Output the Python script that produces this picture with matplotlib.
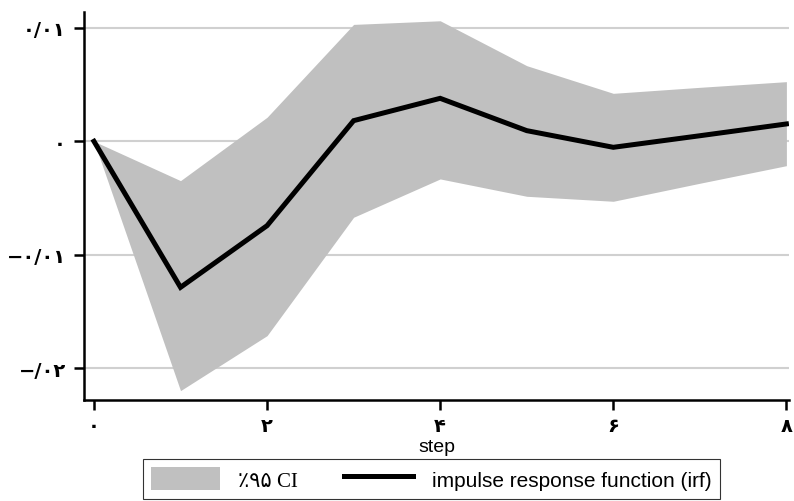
import matplotlib.pyplot as plt

# impulse response and its 95% band, by step
steps = [0, 1, 2, 3, 4, 5, 6, 7, 8]
irf = [0.0, -0.01288, -0.00744, 0.00182, 0.00379, 0.00094, -0.00053, 0.00049, 0.00153]
ci_upper = [0.0, -0.00347, 0.00212, 0.01031, 0.01063, 0.00667, 0.00423, 0.00476, 0.00526]
ci_lower = [0.0, -0.02199, -0.01714, -0.0067, -0.00332, -0.00485, -0.00529, -0.0037, -0.00215]

y_ticks = [0.01, 0.0, -0.01, -0.02]
y_labels = ["۰/۰۱", "۰", "−۰/۰۱", "−/۰۲"]
x_ticks = [0, 2, 4, 6, 8]
x_labels = ["۰", "۲", "۴", "۶", "۸"]

fig = plt.figure(figsize=(7.94, 5.02), dpi=100)
ax = fig.add_axes([0.1058, 0.2018, 0.8879, 0.7729])

band = ax.fill_between(steps, ci_lower, ci_upper, color="#c0c0c0", linewidth=0,
                       label="٪۹۵ CI", zorder=2)
line, = ax.plot(steps, irf, color="black", linewidth=3.6, solid_joinstyle="miter",
                label="impulse response function (irf)", zorder=3)

ax.set_xlim(-0.115, 8.03)
ax.set_ylim(-0.02279, 0.01143)

ax.set_yticks(y_ticks)
ax.set_yticklabels(y_labels, family="DejaVu Sans", fontweight="bold", fontsize=14)
ax.set_xticks(x_ticks)
ax.set_xticklabels(x_labels, family="DejaVu Sans", fontweight="bold", fontsize=14)
ax.tick_params(direction="out", length=7, width=1.8)
ax.tick_params(axis="y", pad=6)
ax.tick_params(axis="x", pad=5)

ax.grid(axis="y", color="#d0d0d0", linewidth=1.5, zorder=1)
ax.set_axisbelow(True)
for side in ["top", "right"]:
    ax.spines[side].set_visible(False)
for side in ["left", "bottom"]:
    ax.spines[side].set_linewidth(1.8)

ax.set_xlabel("step", family="Liberation Sans", fontsize=14)
ax.xaxis.set_label_coords(0.5, -0.098)

leg = fig.legend(handles=[band, line], loc="lower center", ncol=2,
                 bbox_to_anchor=(0.543, 0.004), borderaxespad=0, frameon=True,
                 fancybox=False, edgecolor="black", handlelength=3.3, handleheight=1.3,
                 handletextpad=0.9, columnspacing=2.2, borderpad=0.4,
                 prop={"family": "Liberation Sans", "size": 15})
leg.get_frame().set_linewidth(0.8)
leg.get_texts()[0].set_family(["Liberation Serif", "DejaVu Sans"])

fig.savefig("out.png", dpi=100)
